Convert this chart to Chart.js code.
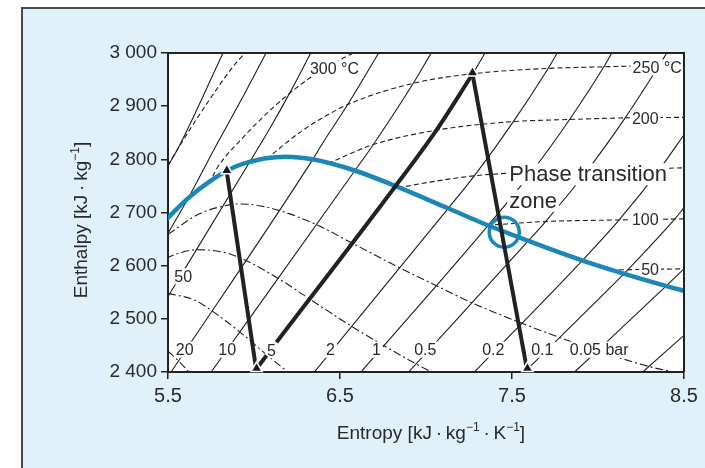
<!DOCTYPE html>
<html>
<head>
<meta charset="utf-8">
<script src="https://cdn.jsdelivr.net/npm/chart.js@4.4.1/dist/chart.umd.min.js"></script>
<style>
  html, body { margin: 0; padding: 0; background: #fff; width: 705px; height: 468px; overflow: hidden; }
  #frame { position: absolute; left: 21px; top: 7px; width: 700px; height: 480px; background: #e1f1fa; border-left: 2px solid #4a4a4a; border-top: 2px solid #4a4a4a; }
  #chart { position: absolute; left: 0; top: 0; }
</style>
</head>
<body>
<div id="frame"></div>
<canvas id="chart" width="705" height="468"></canvas>
<script>
// Achsen
const sTicks = [5.5, 6.5, 7.5, 8.5];
const hTicks = [2400, 2500, 2600, 2700, 2800, 2900, 3000];
const hTickLabels = ['2 400', '2 500', '2 600', '2 700', '2 800', '2 900', '3 000'];

// Sattdampflinie [s, h]
const satLine = [[5.49, 2687], [5.614, 2726], [5.745, 2759], [5.89, 2786], [5.973, 2795], [6.07, 2802], [6.186, 2805],
  [6.34, 2800], [6.585, 2779], [6.821, 2750], [7.127, 2708], [7.359, 2676], [7.593, 2647], [7.907, 2610],
  [8.149, 2585], [8.394, 2562], [8.52, 2551]];

// Isobaren
const p200 = [[5.5, 2788], [5.554, 2818], [5.82, 3000]];
const p100 = [[5.5, 2661], [5.614, 2725], [5.78, 2826], [5.946, 2924], [6.07, 3000]];
const p50 = [[5.5, 2542], [5.973, 2794], [6.09, 2857], [6.208, 2925], [6.33, 3000]];
const p20 = [[5.518, 2400], [6.34, 2799], [6.41, 2836], [6.545, 2903], [6.725, 3000]];
const p10 = [[5.751, 2400], [6.585, 2778], [6.694, 2828], [6.926, 2943], [7.03, 3000]];
const p5 = [[5.999, 2400], [6.821, 2749], [7.061, 2855], [7.272, 2961], [7.343, 3000]];
const p2 = [[6.351, 2400], [7.127, 2707], [7.281, 2769], [7.508, 2871], [7.71, 2971], [7.763, 3000]];
const p1 = [[6.622, 2400], [7.359, 2675], [7.614, 2776], [7.835, 2875], [8.034, 2974], [8.08, 3000]];
const p05 = [[6.899, 2400], [7.593, 2646], [7.695, 2683], [7.94, 2780], [8.158, 2878], [8.356, 2977], [8.40, 3000]];
const p02 = [[7.282, 2400], [7.907, 2609], [8.123, 2686], [8.362, 2783], [8.5, 2846]];
const p01 = [[7.573, 2400], [8.149, 2584], [8.173, 2592], [8.447, 2688], [8.5, 2709]];
const p005 = [[7.864, 2400], [8.394, 2561], [8.5, 2594]];
const p002 = [[8.26, 2400], [8.5, 2469]];

// Isothermen
const t400 = [[5.5, 2788], [5.554, 2818], [5.72, 2902], [5.882, 2976], [5.95, 3001]];
const t300 = [[5.76, 2768], [5.79, 2786], [5.93, 2839], [6.07, 2885], [6.21, 2925], [6.36, 2961], [6.54, 2994], [6.58, 3000]];
const t250 = [[6.073, 2801], [6.29, 2856], [6.545, 2903], [6.926, 2943], [7.272, 2961], [7.71, 2971], [8.034, 2974], [8.5, 2978]];
const t200 = [[6.431, 2792], [6.59, 2815], [6.694, 2828], [7.061, 2855], [7.508, 2871], [7.835, 2875], [8.158, 2878], [8.5, 2879]];
const t150 = [[6.838, 2746], [6.93, 2752], [7.281, 2769], [7.614, 2776], [7.94, 2780], [8.362, 2783], [8.5, 2784]];
const t100 = [[7.355, 2676], [7.695, 2683], [8.123, 2686], [8.5, 2688]];
const t50 = [[8.076, 2592], [8.5, 2594]];

// Linien konstanten Dampfgehalts
const x95 = [[5.501, 2659], [5.679, 2697], [5.821, 2712], [5.906, 2716], [6.01, 2714], [6.145, 2704], [6.364, 2677],
  [6.573, 2642], [6.847, 2596], [7.056, 2563], [7.268, 2530], [7.555, 2492], [7.775, 2465], [7.998, 2440], [8.30, 2410], [8.44, 2400]];
const x90 = [[5.49, 2614], [5.545, 2621.5], [5.669, 2630], [5.833, 2624.5], [5.951, 2610], [6.141, 2576], [6.325, 2537],
  [6.567, 2486], [6.753, 2450], [6.943, 2415], [7.03, 2400]];
const x85 = [[5.5, 2548], [5.656, 2535], [5.756, 2515], [5.919, 2475], [6.077, 2431.5], [6.197, 2400]];
const x80 = [[5.5, 2439], [5.561, 2421], [5.622, 2400]];

// Prozesslinien
const pathA = [[6.015, 2400], [5.842, 2776]];
const pathBStart = [[6.021, 2409], [6.073, 2431]];
const pathB = [[6.131, 2456], [6.821, 2749], [7.061, 2855], [7.27, 2960]];
const pathC = [[7.27, 2961], [7.59, 2400]];
const triangles = [[6.015, 2407], [5.842, 2779], [7.27, 2963], [7.59, 2407]];
const zoneCircle = [[7.455, 2663]];

const BLUE = '#1b86b8';
const INK = '#1e1e1e';

// Beschriftungen mit weißem Hintergrund
const notes = [
  { text: '20', s: 5.597, h: 2442, size: 16 },
  { text: '10', s: 5.844, h: 2442, size: 16 },
  { text: '5', s: 6.102, h: 2441, size: 16 },
  { text: '2', s: 6.445, h: 2442, size: 16 },
  { text: '1', s: 6.712, h: 2442, size: 16 },
  { text: '0.5', s: 6.996, h: 2442, size: 16 },
  { text: '0.2', s: 7.391, h: 2442, size: 16 },
  { text: '0.1', s: 7.676, h: 2442, size: 16 },
  { text: '0.05 bar', s: 8.007, h: 2442, size: 16 },
  { text: '50', s: 5.588, h: 2580, size: 16 },
  { text: '50', s: 8.303, h: 2593, size: 16 },
  { text: '100', s: 8.275, h: 2687, size: 16 },
  { text: '200', s: 8.275, h: 2877, size: 16 },
  { text: '250 °C', s: 8.344, h: 2973, size: 16 },
  { text: '300 °C', s: 6.468, h: 2971, size: 16 },
  { text: 'Phase transition', s: 7.484, h: 2772, size: 22, align: 'left' },
  { text: 'zone', s: 7.484, h: 2722, size: 22, align: 'left' }
];

const datasets = [];
function addLine(data, opts) {
  datasets.push(Object.assign({
    data: data.map(([x, y]) => ({ x, y })),
    pointRadius: 0,
    borderColor: INK,
    borderWidth: 1.1,
    fill: false,
    cubicInterpolationMode: 'monotone',
    order: 10
  }, opts));
  return datasets.length - 1;
}

[p200, p100, p50, p20, p10, p5, p2, p1, p05, p02, p01, p005, p002].forEach(d => addLine(d, {}));
[t400, t300, t250, t200, t150, t100, t50].forEach(d => addLine(d, { borderDash: [5, 3] }));
[x95, x90, x85, x80].forEach(d => addLine(d, { borderDash: [8, 3, 2, 3] }));
const SAT = addLine(satLine, { borderColor: BLUE, borderWidth: 4.5, order: 3 });
addLine(zoneCircle, {
  showLine: false, pointRadius: 15, pointStyle: 'circle', pointBorderColor: BLUE, pointBorderWidth: 3.5,
  pointBackgroundColor: 'rgba(0,0,0,0)', order: 2
});
[pathA, pathBStart, pathC].forEach(d => addLine(d, { borderWidth: 4, borderColor: '#222', cubicInterpolationMode: 'default', tension: 0, order: 1 }));
addLine(pathB, { borderWidth: 4, borderColor: '#222', order: 1 });
addLine(triangles, {
  showLine: false, pointRadius: 6.5, pointStyle: 'triangle', pointBackgroundColor: '#1a1a1a',
  pointBorderColor: '#fff', pointBorderWidth: 1.5, clip: false, order: 0
});

const FONT = '"Liberation Sans", Arial, sans-serif';

function drawNotes(chart) {
  const ctx = chart.ctx;
  const xs = chart.scales.x, ys = chart.scales.y;
  ctx.save();
  notes.forEach(n => {
    ctx.font = n.size + 'px ' + FONT;
    const w = ctx.measureText(n.text).width;
    const px = xs.getPixelForValue(n.s);
    const py = ys.getPixelForValue(n.h);
    const left = n.align === 'left' ? px : px - w / 2;
    ctx.fillStyle = '#fff';
    ctx.fillRect(left - 2, py - n.size * 0.5, w + 4, n.size);
    ctx.fillStyle = '#2a2a2a';
    ctx.textBaseline = 'middle';
    ctx.textAlign = 'left';
    ctx.fillText(n.text, left, py + 1);
  });
  ctx.restore();
}

function drawRich(ctx, parts, size) {
  const sup = Math.round(size * 0.65);
  let total = 0;
  parts.forEach(p => {
    ctx.font = (p.sup ? sup : size) + 'px ' + FONT;
    p.w = ctx.measureText(p.t).width;
    total += p.w;
  });
  let x = -total / 2;
  parts.forEach(p => {
    ctx.font = (p.sup ? sup : size) + 'px ' + FONT;
    ctx.fillText(p.t, x, p.sup ? size * 0.35 - size * 0.42 : size * 0.35);
    x += p.w;
  });
}

const sheet = {
  id: 'sheet',
  beforeDraw(chart) {
    const { ctx, chartArea: a } = chart;
    ctx.save();
    ctx.fillStyle = '#fff';
    ctx.fillRect(a.left, a.top, a.right - a.left, a.bottom - a.top);
    ctx.restore();
  },
  beforeDatasetDraw(chart, args) {
    if (args.index === SAT) drawNotes(chart);
  },
  afterDraw(chart) {
    const { ctx, chartArea: a } = chart;
    ctx.save();
    ctx.strokeStyle = '#222';
    ctx.lineWidth = 2;
    ctx.beginPath();
    ctx.moveTo(a.left, a.top);
    ctx.lineTo(a.right, a.top);
    ctx.lineTo(a.right, a.bottom);
    ctx.stroke();

    ctx.fillStyle = '#2a2a2a';
    ctx.textAlign = 'left';
    ctx.textBaseline = 'alphabetic';
    const dot = '\u2009\u00b7\u2009';
    ctx.save();
    ctx.translate(431, 432);
    drawRich(ctx, [{ t: 'Entropy [kJ' + dot + 'kg' }, { t: '\u22121', sup: true }, { t: dot + 'K' }, { t: '\u22121', sup: true }, { t: ']' }], 19);
    ctx.restore();
    ctx.save();
    ctx.translate(80, 220);
    ctx.rotate(-Math.PI / 2);
    drawRich(ctx, [{ t: 'Enthalpy [kJ' + dot + 'kg' }, { t: '\u22121', sup: true }, { t: ']' }], 19);
    ctx.restore();
    ctx.restore();
  }
};

new Chart(document.getElementById('chart').getContext('2d'), {
  type: 'line',
  data: { datasets },
  options: {
    responsive: false,
    animation: false,
    events: [],
    layout: { padding: { top: 53, right: 21, left: 0, bottom: 0 } },
    plugins: { legend: { display: false }, tooltip: { enabled: false }, title: { display: false } },
    scales: {
      x: {
        type: 'linear',
        min: 5.5,
        max: 8.5,
        afterFit(scale) { scale.height = 96; },
        afterBuildTicks(scale) { scale.ticks = sTicks.map(v => ({ value: v })); },
        ticks: { color: '#2a2a2a', font: { family: FONT, size: 20 }, padding: 5, maxRotation: 0, autoSkip: false, callback: v => v.toFixed(1) },
        grid: { display: true, drawOnChartArea: false, drawTicks: true, tickLength: 7, color: '#222', lineWidth: 1.5 },
        border: { display: true, color: '#222', width: 2 }
      },
      y: {
        type: 'linear',
        min: 2400,
        max: 3000,
        afterFit(scale) { scale.width = 168; },
        afterBuildTicks(scale) { scale.ticks = hTicks.map(v => ({ value: v })); },
        ticks: { color: '#2a2a2a', font: { family: FONT, size: 19 }, padding: 4, autoSkip: false, callback: v => hTickLabels[hTicks.indexOf(v)] },
        grid: { display: true, drawOnChartArea: false, drawTicks: true, tickLength: 7, color: '#222', lineWidth: 1.5 },
        border: { display: true, color: '#222', width: 2 }
      }
    }
  },
  plugins: [sheet]
});
</script>
</body>
</html>
